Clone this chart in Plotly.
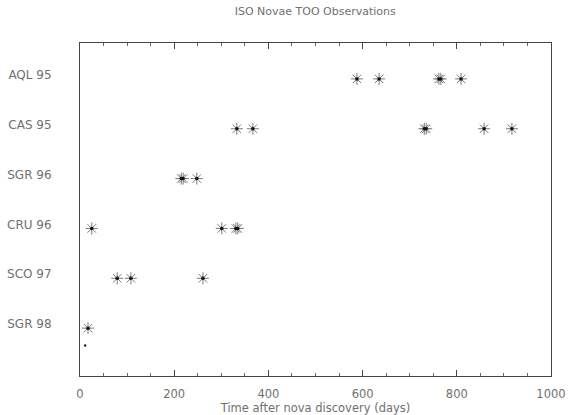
import plotly.graph_objects as go

# ---- data ----
novae = ["AQL 95", "CAS 95", "SGR 96", "CRU 96", "SCO 97", "SGR 98"]
row_values = [6, 5, 4, 3, 2, 1]

aql95_days = [588, 635, 762, 766, 809]
cas95_days = [333, 367, 731, 735, 858, 917]
sgr96_days = [215, 219, 248]
cru96_days = [25, 301, 331, 335]
sco97_days = [79, 108, 261]
sgr98_days = [17]

stray_days = [11]
stray_rows = [0.65]

x_ticks = [0, 200, 400, 600, 800, 1000]

obs_lists = [aql95_days, cas95_days, sgr96_days, cru96_days, sco97_days, sgr98_days]
xs, ys = [], []
for row, days in zip(row_values, obs_lists):
    for d in days:
        xs.append(d)
        ys.append(row)

fig = go.Figure()
fig.add_trace(go.Scatter(
    x=xs, y=ys, mode="markers",
    marker=dict(symbol="asterisk-open", size=10, color="#7a7a7a",
                line=dict(width=1, color="#7a7a7a")),
    hoverinfo="skip", showlegend=False))
fig.add_trace(go.Scatter(
    x=xs, y=ys, mode="markers",
    marker=dict(symbol="circle", size=3.5, color="#111111"),
    hoverinfo="skip", showlegend=False))
fig.add_trace(go.Scatter(
    x=stray_days, y=stray_rows, mode="markers",
    marker=dict(symbol="circle", size=2.5, color="#222222"),
    hoverinfo="skip", showlegend=False))

font_color = "#707070"
fig.update_layout(
    width=568, height=415,
    paper_bgcolor="white", plot_bgcolor="white",
    margin=dict(l=80, r=17, t=43, b=39),
    font=dict(family="DejaVu Sans", size=12, color=font_color),
    title=dict(text="ISO Novae TOO Observations", x=0.555, xanchor="center",
               y=0.972, yanchor="middle",
               font=dict(size=11, color=font_color)),
)
fig.update_xaxes(
    range=[0, 1000], tickvals=x_ticks, ticktext=[str(t) for t in x_ticks],
    showgrid=False, zeroline=False, automargin=False,
    showline=True, mirror="allticks", linecolor="#444444", linewidth=1,
    ticks="inside", ticklen=6, tickcolor="#444444",
    minor=dict(dtick=50, ticks="inside", ticklen=3, tickcolor="#666666"),
    ticklabelstandoff=7,
    tickfont=dict(size=11.5, color=font_color),
    title=dict(text="Time after nova discovery (days)", standoff=1,
               font=dict(size=11.5, color=font_color)),
)
fig.update_yaxes(
    range=[0.04, 6.72], tickvals=row_values, ticktext=novae,
    showgrid=False, zeroline=False, automargin=False,
    showline=True, mirror=True, linecolor="#444444", linewidth=1,
    ticks="", ticklabelstandoff=25, ticklabelshift=-4,
    tickfont=dict(size=12, color=font_color),
)

fig.write_html(
    "out.html",
    config={"displayModeBar": False},
    post_script="document.body.style.margin='0';document.body.style.overflow='hidden';",
)
